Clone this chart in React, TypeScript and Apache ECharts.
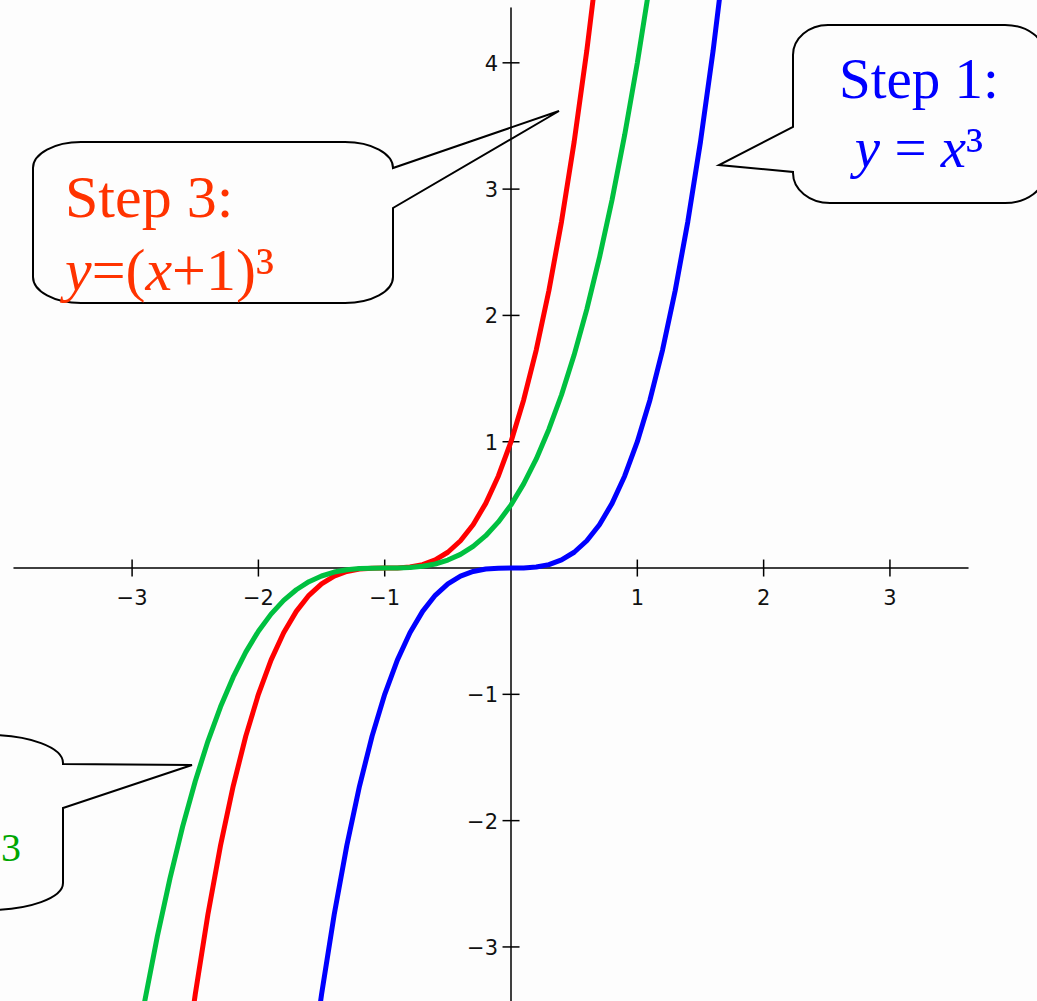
import React, { useEffect, useRef } from 'react';
import * as echarts from 'echarts';

// y = x^3 (blue)
const blueX = [-1.6, -1.5, -1.4, -1.3, -1.2, -1.1, -1.0, -0.9, -0.8, -0.7, -0.6, -0.5, -0.4, -0.3, -0.2, -0.1, 0, 0.1, 0.2, 0.3, 0.4, 0.5, 0.6, 0.7, 0.8, 0.9, 1.0, 1.1, 1.2, 1.3, 1.4, 1.5, 1.6, 1.7];
const blueY = [-4.096, -3.375, -2.744, -2.197, -1.728, -1.331, -1, -0.729, -0.512, -0.343, -0.216, -0.125, -0.064, -0.027, -0.008, -0.001, 0, 0.001, 0.008, 0.027, 0.064, 0.125, 0.216, 0.343, 0.512, 0.729, 1, 1.331, 1.728, 2.197, 2.744, 3.375, 4.096, 4.913];

// y = (x+1)^3 (red)
const redX = [-2.6, -2.5, -2.4, -2.3, -2.2, -2.1, -2.0, -1.9, -1.8, -1.7, -1.6, -1.5, -1.4, -1.3, -1.2, -1.1, -1.0, -0.9, -0.8, -0.7, -0.6, -0.5, -0.4, -0.3, -0.2, -0.1, 0, 0.1, 0.2, 0.3, 0.4, 0.5, 0.6, 0.7];
const redY = [-4.096, -3.375, -2.744, -2.197, -1.728, -1.331, -1, -0.729, -0.512, -0.343, -0.216, -0.125, -0.064, -0.027, -0.008, -0.001, 0, 0.001, 0.008, 0.027, 0.064, 0.125, 0.216, 0.343, 0.512, 0.729, 1, 1.331, 1.728, 2.197, 2.744, 3.375, 4.096, 4.913];

// y = ½(x+1)^3 (green)
const greenX = [-3.0, -2.9, -2.8, -2.7, -2.6, -2.5, -2.4, -2.3, -2.2, -2.1, -2.0, -1.9, -1.8, -1.7, -1.6, -1.5, -1.4, -1.3, -1.2, -1.1, -1.0, -0.9, -0.8, -0.7, -0.6, -0.5, -0.4, -0.3, -0.2, -0.1, 0, 0.1, 0.2, 0.3, 0.4, 0.5, 0.6, 0.7, 0.8, 0.9, 1.0, 1.1];
const greenY = [-4, -3.43, -2.916, -2.457, -2.048, -1.688, -1.372, -1.099, -0.864, -0.666, -0.5, -0.365, -0.256, -0.172, -0.108, -0.063, -0.032, -0.014, -0.004, -0.001, 0, 0.001, 0.004, 0.014, 0.032, 0.063, 0.108, 0.172, 0.256, 0.365, 0.5, 0.666, 0.864, 1.099, 1.372, 1.688, 2.048, 2.457, 2.916, 3.43, 4, 4.631];

const xTickValues = [-3, -2, -1, 1, 2, 3];
const yTickValues = [-3, -2, -1, 1, 2, 3, 4];

const X_MIN = -3.935;
const X_MAX = 3.618;
const Y_MIN = -3.428;
const Y_MAX = 4.434;

const SERIF = '"Liberation Serif", "Times New Roman", serif';
const TICK_FONT = '21px "DejaVu Sans", sans-serif';

const BUBBLE3 =
  'M 81 142 L 345 142 C 371.5 142 393 153.6 393 168 L 559 111 L 393 208 L 393 277 C 393 291.4 371.5 303 345 303 L 81 303 C 54.5 303 33 291.4 33 277 L 33 168 C 33 153.6 54.5 142 81 142 Z';
const BUBBLE1 =
  'M 828 25 L 1005 25 C 1027 25 1045 38.4 1045 55 L 1045 173 C 1045 189.6 1027 203 1005 203 L 830 203 C 809.6 203 793 189.6 793 173 L 793 172 L 719 165 L 793 127 L 793 55 C 793 38.4 808.7 25 828 25 Z';
const BUBBLE2 =
  'M -300 735 L -12 735 C 29.4 735 63 747.5 63 763 L 63 764 L 192 765 L 63 808 L 63 883 C 63 897.9 29.4 910 -12 910 L -300 910 Z';

function fmt(v: number) {
  return v < 0 ? '\u2212' + Math.abs(v) : String(v);
}

function zip(xs: number[], ys: number[]) {
  return xs.map((x, i) => [x, ys[i]]);
}

export default function App() {
  const ref = useRef<HTMLDivElement>(null);
  useEffect(() => {
    const el = ref.current!;
    echarts.graphic.registerShape('bubble1', echarts.graphic.extendPath(BUBBLE1, {}));
    echarts.graphic.registerShape('bubble2', echarts.graphic.extendPath(BUBBLE2, {}));
    echarts.graphic.registerShape('bubble3', echarts.graphic.extendPath(BUBBLE3, {}));
    const chart = echarts.init(el, null, { renderer: 'svg' });

    const tickRender = (dir: 'x' | 'y') => (params: any, api: any) => {
      const v = dir === 'x' ? api.value(0) : api.value(1);
      const p = api.coord([api.value(0), api.value(1)]);
      const line =
        dir === 'x'
          ? { x1: p[0], y1: p[1] - 8.5, x2: p[0], y2: p[1] + 8.5 }
          : { x1: p[0] - 8.5, y1: p[1], x2: p[0] + 8.5, y2: p[1] };
      const label =
        dir === 'x'
          ? { x: p[0], y: p[1] + 29.5, align: 'center' }
          : { x: p[0] - 13, y: p[1] + 1, align: 'right' };
      return {
        type: 'group',
        children: [
          { type: 'line', shape: line, style: { stroke: '#000', lineWidth: 1.5 } },
          {
            type: 'text',
            x: label.x,
            y: label.y,
            style: {
              text: fmt(v),
              font: TICK_FONT,
              fill: '#111',
              align: label.align,
              verticalAlign: 'middle',
            },
          },
        ],
      };
    };

    const lineCommon = {
      type: 'line',
      showSymbol: false,
      symbol: 'none',
      clip: false,
      smooth: false,
      silent: true,
    };

    const axisCommon = {
      type: 'value',
      axisLine: { show: true, onZero: true, lineStyle: { color: '#000', width: 1.5 } },
      axisTick: { show: false },
      splitLine: { show: false },
      axisLabel: { show: false },
    };

    chart.setOption({
      animation: false,
      backgroundColor: '#fdfdfd',
      grid: { left: 14, right: 69, top: 8, bottom: 0, containLabel: false, outerBoundsMode: 'none' },
      xAxis: { ...axisCommon, min: X_MIN, max: X_MAX },
      yAxis: { ...axisCommon, min: Y_MIN, max: Y_MAX },
      series: [
        { ...lineCommon, name: 'y = x³', data: zip(blueX, blueY), lineStyle: { color: '#0000ff', width: 5 }, z: 4 },
        { ...lineCommon, name: 'y = (x+1)³', data: zip(redX, redY), lineStyle: { color: '#ff0000', width: 5 }, z: 5 },
        { ...lineCommon, name: 'y = ½(x+1)³', data: zip(greenX, greenY), lineStyle: { color: '#00c040', width: 5 }, z: 6 },
        {
          type: 'custom',
          coordinateSystem: 'cartesian2d',
          data: xTickValues.map((v) => [v, 0]),
          renderItem: tickRender('x'),
          clip: false,
          silent: true,
          z: 3,
        },
        {
          type: 'custom',
          coordinateSystem: 'cartesian2d',
          data: yTickValues.map((v) => [0, v]),
          renderItem: tickRender('y'),
          clip: false,
          silent: true,
          z: 3,
        },
      ],
      graphic: {
        elements: [
          { type: 'bubble3', x: 0, y: 0, z: 10, style: { fill: 'none', stroke: '#000', lineWidth: 2 } },
          { type: 'bubble1', x: 0, y: 0, z: 10, style: { fill: 'none', stroke: '#000', lineWidth: 2 } },
          { type: 'bubble2', x: 0, y: 0, z: 10, style: { fill: 'none', stroke: '#000', lineWidth: 2 } },
          {
            type: 'text',
            x: 65,
            y: 160,
            z: 11,
            style: {
              text: 'Step 3:\n{i|y}=({i|x}+1)³',
              fontFamily: SERIF,
              fontSize: 60,
              lineHeight: 73,
              fill: '#ff3300',
              align: 'left',
              verticalAlign: 'top',
              rich: { i: { fontStyle: 'italic', fontFamily: SERIF, fontSize: 60, lineHeight: 73, fill: '#ff3300' } },
            },
          },
          {
            type: 'text',
            x: 919,
            y: 44,
            z: 11,
            style: {
              text: 'Step 1:\n{i|y} = {i|x}³',
              fontFamily: SERIF,
              fontSize: 57,
              lineHeight: 69,
              fill: '#0000ff',
              align: 'center',
              verticalAlign: 'top',
              rich: { i: { fontStyle: 'italic', fontFamily: SERIF, fontSize: 57, lineHeight: 69, fill: '#0000ff' } },
            },
          },
          {
            type: 'text',
            x: 1,
            y: 847,
            z: 11,
            style: {
              text: '3',
              fontFamily: SERIF,
              fontSize: 40,
              fill: '#00a600',
              align: 'left',
              verticalAlign: 'middle',
            },
          },
        ],
      },
    });
    return () => chart.dispose();
  }, []);
  return (
    <div
      ref={ref}
      style={{ position: 'fixed', left: 0, top: 0, width: 1037, height: 1001, background: '#fdfdfd' }}
    />
  );
}
